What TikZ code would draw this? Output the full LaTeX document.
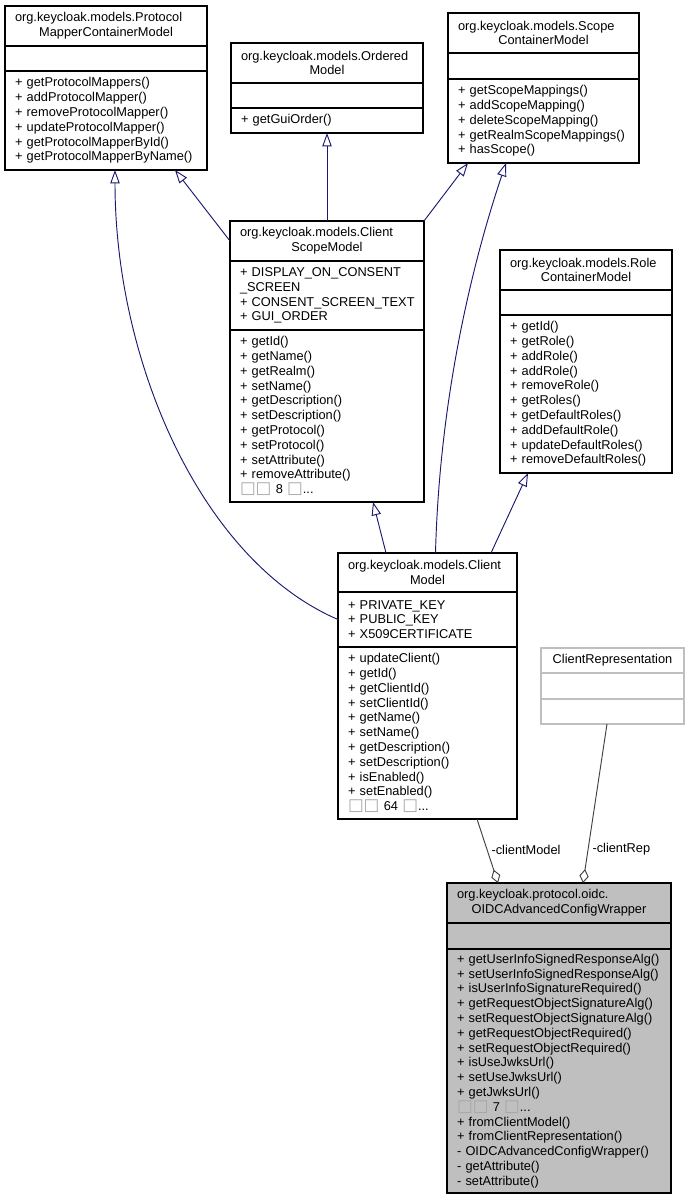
\documentclass[tikz,border=0pt]{standalone}
\usepackage{fontspec}
\setmainfont{Liberation Sans}
\newfontfamily\boxfont{DejaVu Sans}
\usetikzlibrary{positioning,arrows.meta}
\newlength\px
\setlength\px{0.75pt}
\newcommand\secondline[1]{\makebox[\linewidth][c]{#1}}
\newcommand\nochar{{\boxfont\fontsize{12.5}{11.1}\selectfont\textcolor{gray!70}{□}}}
\definecolor{edgeblue}{HTML}{191970}
\definecolor{edgegray}{HTML}{404040}
\definecolor{fillgray}{HTML}{BFBFBF}
\hyphenpenalty=10000
\begin{document}
\begin{tikzpicture}[x=0.75pt, y=-0.75pt,
  box/.style={draw, line width=0.8pt, outer sep=0pt, inner xsep=10\px, inner ysep=2\px,
    font=\fontsize{9.6}{11.1}\selectfont, text width=#1\px},
  title/.style={box=#1, minimum height=40\px, align=left},
  members/.style={box=#1, align=left},
  inherit/.style={draw=edgeblue, line width=0.7pt, -{Triangle[open, length=10pt, width=7pt]}},
  aggr/.style={draw=edgegray, line width=0.7pt, -{Diamond[open, length=10.5pt, width=7pt]}},
  lbl/.style={font=\fontsize{9.6}{11.1}\selectfont, inner sep=3pt}]
\useasboundingbox (0,0) rectangle (689,1200);
% ProtocolMapperContainerModel
\node[title=182, anchor=north] (pmc) at (106,6) {org.keycloak.models.Protocol\\\secondline{MapperContainerModel}};
\node[members=182, minimum height=25\px, below=0pt of pmc] (pmca) {};
\node[members=182, minimum height=99\px, below=0pt of pmca] (pmcm) {+ getProtocolMappers()\\+ addProtocolMapper()\\+ removeProtocolMapper()\\+ updateProtocolMapper()\\+ getProtocolMapperById()\\\mbox{+ getProtocolMapperByName()}};
% OrderedModel
\node[title=172, anchor=north] (om) at (327,43) {org.keycloak.models.Ordered\\\secondline{Model}};
\node[members=172, minimum height=25\px, below=0pt of om] (oma) {};
\node[members=172, minimum height=25\px, below=0pt of oma] (omm) {+ getGuiOrder()};
% ScopeContainerModel
\node[title=171, anchor=north] (scm) at (543.5,13) {org.keycloak.models.Scope\\\secondline{ContainerModel}};
\node[members=171, minimum height=26\px, below=0pt of scm] (scma) {};
\node[members=171, minimum height=84\px, below=0pt of scma] (scmm) {+ getScopeMappings()\\+ addScopeMapping()\\+ deleteScopeMapping()\\\mbox{+ getRealmScopeMappings()}\\+ hasScope()};
% ClientScopeModel
\node[title=174, anchor=north] (csm) at (327,221) {org.keycloak.models.Client\\\secondline{ScopeModel}};
\node[members=174, minimum height=69\px, below=0pt of csm] (csma) {\mbox{+ DISPLAY\_ON\_CONSENT}\\\_SCREEN\\\mbox{+ CONSENT\_SCREEN\_TEXT}\\+ GUI\_ORDER};
\node[members=174, minimum height=172\px, below=0pt of csma] (csmm) {+ getId()\\+ getName()\\+ getRealm()\\+ setName()\\+ getDescription()\\+ setDescription()\\+ getProtocol()\\+ setProtocol()\\+ setAttribute()\\+ removeAttribute()\\\nochar\nochar{} 8 \nochar...};
% RoleContainerModel
\node[title=152, anchor=north] (rcm) at (586,250) {org.keycloak.models.Role\\\secondline{ContainerModel}};
\node[members=152, minimum height=25\px, below=0pt of rcm] (rcma) {};
\node[members=152, minimum height=158\px, below=0pt of rcma] (rcmm) {+ getId()\\+ getRole()\\+ addRole()\\+ addRole()\\+ removeRole()\\+ getRoles()\\+ getDefaultRoles()\\+ addDefaultRole()\\+ updateDefaultRoles()\\+ removeDefaultRoles()};
% ClientModel
\node[title=159, minimum height=39\px, anchor=north] (cm) at (427.5,553) {org.keycloak.models.Client\\\secondline{Model}};
\node[members=159, minimum height=55\px, below=0pt of cm] (cma) {+ PRIVATE\_KEY\\+ PUBLIC\_KEY\\+ X509CERTIFICATE};
\node[members=159, minimum height=172\px, below=0pt of cma] (cmm) {+ updateClient()\\+ getId()\\+ getClientId()\\+ setClientId()\\+ getName()\\+ setName()\\+ getDescription()\\+ setDescription()\\+ isEnabled()\\+ setEnabled()\\\nochar\nochar{} 64 \nochar...};
% ClientRepresentation
\node[title=123, draw=fillgray, minimum height=25\px, align=center, anchor=north] (cr) at (612.5,648) {ClientRepresentation};
\node[members=123, draw=fillgray, minimum height=26\px, below=0pt of cr] (cra) {};
\node[members=123, draw=fillgray, minimum height=25\px, below=0pt of cra] (crm) {};
% OIDCAdvancedConfigWrapper
\node[title=204, fill=fillgray, anchor=north] (acw) at (559,883) {org.keycloak.protocol.oidc.\\\secondline{OIDCAdvancedConfigWrapper}};
\node[members=204, fill=fillgray, minimum height=26\px, below=0pt of acw] (acwa) {};
\node[members=204, fill=fillgray, minimum height=244\px, below=0pt of acwa] (acwm) {\mbox{+ getUserInfoSignedResponseAlg()}\\\mbox{+ setUserInfoSignedResponseAlg()}\\\mbox{+ isUserInfoSignatureRequired()}\\\mbox{+ getRequestObjectSignatureAlg()}\\\mbox{+ setRequestObjectSignatureAlg()}\\+ getRequestObjectRequired()\\+ setRequestObjectRequired()\\+ isUseJwksUrl()\\+ setUseJwksUrl()\\+ getJwksUrl()\\\nochar\nochar{} 7 \nochar...\\+ fromClientModel()\\+ fromClientRepresentation()\\- OIDCAdvancedConfigWrapper()\\- getAttribute()\\- setAttribute()};
% generalizations
\draw[inherit] (csm.west) -- ([xshift=170\px]pmcm.south west);
\draw[inherit] (csm.north) -- (omm.south);
\draw[inherit] (csm.north east) -- ([xshift=20\px]scmm.south west);
\draw[inherit] ([xshift=48\px]cm.north west) -- ([xshift=143\px]csmm.south west);
\draw[inherit] ([xshift=-26\px]cm.north east) -- ([xshift=28\px]rcmm.south west);
\draw[inherit] ([xshift=8\px]cm.north) .. controls (440,380) and (480,240) .. ([xshift=58\px]scmm.south west);
\draw[inherit] (cma.west) .. controls (200,560) and (115,360) .. ([xshift=110\px]pmcm.south west);
% aggregations
\draw[aggr] ([xshift=-40\px]cmm.south east) -- node[lbl, pos=0.48, right] {-clientModel} ([xshift=51\px]acw.north west);
\draw[aggr] ([xshift=66\px]crm.south west) -- node[lbl, pos=0.79, right] {-clientRep} ([xshift=136\px]acw.north west);
\end{tikzpicture}
\end{document}
